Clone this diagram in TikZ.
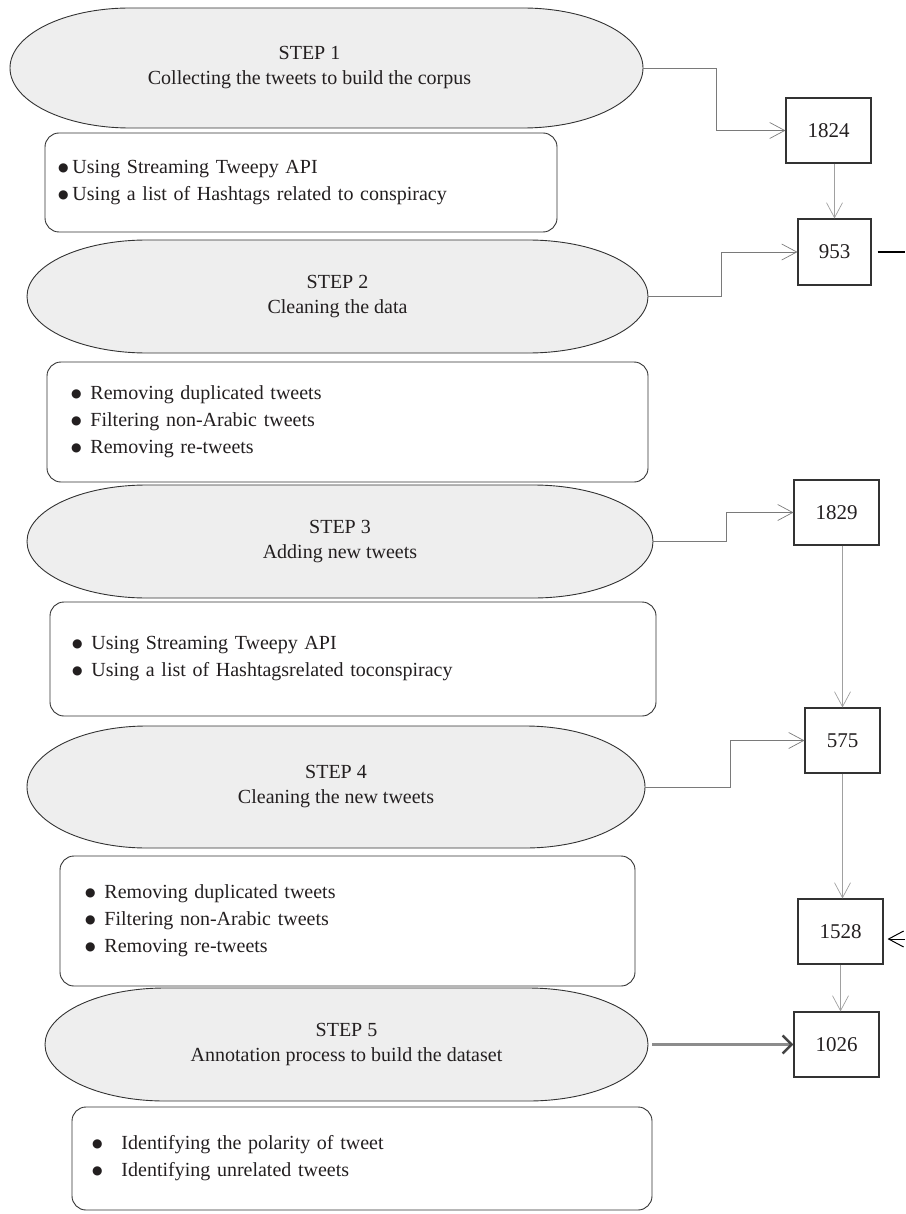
\documentclass[tikz,border=0pt]{standalone}
\usepackage{fontspec}
\setmainfont{Liberation Serif}
\newfontfamily\dotfont{DejaVu Sans}
\usetikzlibrary{arrows.meta,calc}
\definecolor{pillgray}{HTML}{EEEEEE}
\definecolor{edge}{HTML}{333333}
\definecolor{conngray}{HTML}{7A7A7A}
\definecolor{vgray}{HTML}{A0A0A0}
\definecolor{thickgray}{HTML}{8C8C8C}
\definecolor{tipgray}{HTML}{444444}
\definecolor{txt}{HTML}{231F20}
\tikzset{
  pillshape/.style={fill=pillgray, draw=edge, line width=0.9pt},
  pilltext/.style={draw=none, inner sep=0pt, align=center, text=txt, font=\fontsize{20}{25}\selectfont},
  listbox/.style={draw=edge, line width=0.9pt, rounded corners=14pt, fill=white, align=left, text=txt, inner ysep=0pt, font=\fontsize{20}{27}\selectfont},
  numbox/.style={draw=edge, line width=1.1pt, fill=white, inner sep=0pt, text=txt, font=\fontsize{21}{24}\selectfont},
  conn/.style={draw=conngray, line width=0.8pt, -{Straight Barb[length=15pt,width=16pt,line width=0.7pt]}},
  vconn/.style={draw=vgray, line width=0.8pt, -{Straight Barb[length=15pt,width=16pt,line width=0.7pt]}},
  thickconn/.style={draw=thickgray, line width=3pt, shorten <=4pt, -{Straight Barb[length=9pt,width=18pt,line width=2.5pt,color=tipgray]}},
  stub/.style={draw=black, line width=1.3pt},
  blackarrow/.style={draw=black, line width=1pt, -{Straight Barb[length=15pt,width=16pt,line width=1pt]}},
}
\newcommand\pillnode[6]{%
  \pgfmathsetmacro\pry{(#5-#3)/2}%
  \pgfmathsetmacro\pw{#4-#2}%
  \pgfmathsetmacro\ph{#5-#3}%
  \path[pillshape] (#2+120,-#3) -- (#4-120,-#3)
    arc[start angle=90,end angle=-90,x radius=120pt,y radius=\pry pt]
    -- (#2+120,-#5)
    arc[start angle=270,end angle=90,x radius=120pt,y radius=\pry pt] -- cycle;
  \node[pilltext, minimum width=\pw pt, minimum height=\ph pt] (#1) at ({(#2+#4)/2},{-(#3+#5)/2}) {#6};
}
\newcommand\listnode[7]{%
  \pgfmathsetmacro\lw{#4-#2}%
  \pgfmathsetmacro\lh{#5-#3}%
  \pgfmathsetmacro\ltw{#4-#2-2*#6}%
  \node[listbox, minimum width=\lw pt, minimum height=\lh pt, text width=\ltw pt, inner xsep=#6pt] (#1) at ({(#2+#4)/2},{-(#3+#5)/2}) {#7};
}
\newcommand\itm[2][7pt]{{\dotfont\fontsize{12}{12}\selectfont\raisebox{2pt}{●}}\hspace{#1}#2}
\begin{document}
\begin{tikzpicture}[x=1pt,y=1pt]
\useasboundingbox (0,0) rectangle (905,-1214);
% steps
\pillnode{e1}{10}{8}{643}{128}{STEP 1\hspace*{34pt}\\Collecting the tweets to build the corpus\hspace*{34pt}}
\pillnode{e2}{27}{240}{648}{353}{STEP 2\\Cleaning the data}
\pillnode{e3}{27}{485}{653}{598}{STEP 3\\Adding new tweets}
\pillnode{e4}{27}{726}{645}{848}{STEP 4\\Cleaning the new tweets}
\pillnode{e5}{45}{988}{648}{1101}{STEP 5\\Annotation process to build the dataset}
% lists
\listnode{b1}{45}{133}{557}{232}{13}{\itm[4pt]{Using Streaming Tweepy API}\\\itm[4pt]{Using a list of Hashtags related to conspiracy}}
\listnode{b2}{47}{362}{648}{482}{24}{\itm[9pt]{Removing duplicated tweets}\\\itm[9pt]{Filtering non-Arabic tweets}\\\itm[9pt]{Removing re-tweets}}
\listnode{b3}{50}{602}{656}{716}{22}{\itm[9pt]{Using Streaming Tweepy API}\\\itm[9pt]{Using a list of Hashtagsrelated toconspiracy}}
\listnode{b4}{60}{856}{635}{986}{25}{\itm[9pt]{Removing duplicated tweets}\\\itm[9pt]{Filtering non-Arabic tweets}\\\itm[9pt]{Removing re-tweets}}
\listnode{b5}{72}{1107}{652}{1210}{20}{\itm[19pt]{Identifying the polarity of tweet}\\\itm[19pt]{Identifying unrelated tweets}}
% numbers
\node[numbox, minimum width=85pt, minimum height=65pt] (n1824) at (828.5,-130.5) {1824};
\node[numbox, minimum width=73pt, minimum height=66pt] (n953) at (834.5,-252) {953};
\node[numbox, minimum width=85pt, minimum height=65pt] (n1829) at (836.5,-512.5) {1829};
\node[numbox, minimum width=75pt, minimum height=65pt] (n575) at (842.5,-740.5) {575};
\node[numbox, minimum width=85pt, minimum height=65pt] (n1528) at (840.5,-931.5) {1528};
\node[numbox, minimum width=85pt, minimum height=65pt] (n1026) at (836.5,-1044.5) {1026};
\coordinate (s953) at (905,-255);
\coordinate (a1528) at (905,-939);
% connectors
\draw[conn] (e1.east) -- ++(73,0) |- (n1824.west);
\draw[conn] (e2.east) -- ++(73,0) |- (n953.west);
\draw[conn] (e3.east) -- ++(73,0) |- (n1829.west);
\draw[conn] (e4.east) -- ++(85,0) |- (n575.west);
\draw[thickconn] (e5.east) -- (n1026.west);
\draw[vconn] (n953.north |- n1824.south) -- (n953.north);
\draw[vconn] (n575.north |- n1829.south) -- (n575.north);
\draw[vconn] (n575.south) -- (n575.south |- n1528.north);
\draw[vconn] (n1528.south) -- (n1528.south |- n1026.north);
\draw[stub] ($(n953.east)+(6pt,0)$) -- (n953.east -| s953);
\draw[blackarrow] (a1528) -- ($(n1528.east |- a1528)+(4pt,0)$);
\end{tikzpicture}
\end{document}
